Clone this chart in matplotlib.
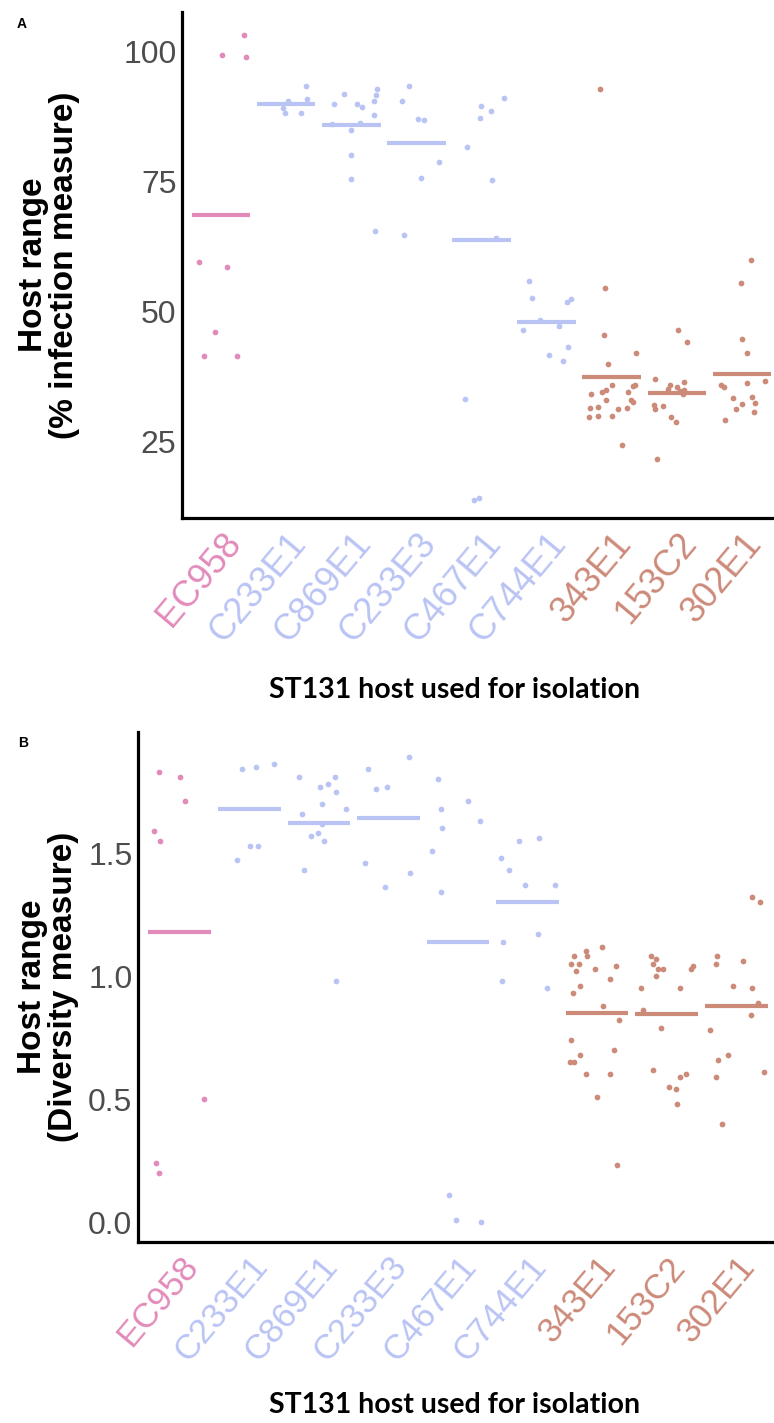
import numpy as np
import matplotlib.pyplot as plt

W, H = 774, 1423

categories = ["EC958", "C233E1", "C869E1", "C233E3", "C467E1", "C744E1", "343E1", "153C2", "302E1"]
groups = ["ref", "blue", "blue", "blue", "blue", "blue", "brown", "brown", "brown"]

# panel A: % infection measure, one list per host
inf_EC958 = [103.1, 99.2, 98.9, 59.5, 58.5, 45.9, 41.3, 41.3]
inf_C233E1 = [93.3, 90.3, 90.8, 88.0, 89.0, 88.0]
inf_C869E1 = [92.7, 91.7, 91.5, 90.3, 89.9, 89.9, 89.2, 87.7, 86.1, 86.0, 84.9, 80.0, 75.4, 65.3]
inf_C233E3 = [93.3, 90.4, 86.9, 86.8, 78.7, 75.6, 64.7]
inf_C467E1 = [90.9, 89.4, 88.5, 87.2, 81.5, 75.1, 64.0, 33.0, 14.0, 13.7]
inf_C744E1 = [55.8, 52.6, 52.4, 51.7, 48.3, 47.1, 46.3, 43.1, 41.6, 40.4]
inf_343E1 = [92.7, 54.4, 45.4, 41.9, 39.9, 35.8, 35.8, 35.6, 34.8, 34.5, 34.4, 34.0,
             32.9, 32.8, 32.6, 31.6, 31.3, 31.3, 31.2, 29.9, 29.9, 29.7, 24.3]
inf_153C2 = [46.3, 44.1, 37.0, 36.3, 35.8, 35.3, 35.0, 34.8, 34.7, 34.0, 31.9, 31.8, 31.1, 29.6, 28.7, 21.5]
inf_302E1 = [59.8, 55.3, 44.6, 42.0, 36.5, 36.2, 35.8, 35.4, 33.5, 33.3, 32.4, 32.1, 31.1, 30.6, 29.1]

# panel B: diversity measure
div_EC958 = [1.83, 1.81, 1.71, 1.59, 1.55, 0.50, 0.24, 0.20]
div_C233E1 = [1.86, 1.85, 1.84, 1.53, 1.53, 1.47]
div_C869E1 = [1.81, 1.81, 1.78, 1.77, 1.75, 1.70, 1.68, 1.66, 1.62, 1.58, 1.57, 1.55, 1.43, 0.98]
div_C233E3 = [1.89, 1.84, 1.77, 1.76, 1.46, 1.42, 1.36]
div_C467E1 = [1.80, 1.71, 1.68, 1.63, 1.60, 1.51, 1.34, 0.11, 0.01, 0.00]
div_C744E1 = [1.56, 1.55, 1.48, 1.43, 1.37, 1.37, 1.17, 1.14, 0.98, 0.95]
div_343E1 = [1.12, 1.10, 1.08, 1.08, 1.05, 1.05, 1.04, 1.03, 1.02, 0.99, 0.96, 0.93,
             0.88, 0.82, 0.74, 0.70, 0.68, 0.65, 0.65, 0.60, 0.60, 0.51, 0.23]
div_153C2 = [1.08, 1.07, 1.05, 1.04, 1.03, 1.03, 1.03, 1.00, 0.95, 0.95, 0.86, 0.79,
             0.62, 0.60, 0.59, 0.55, 0.54, 0.48]
div_302E1 = [1.32, 1.30, 1.08, 1.06, 1.05, 0.96, 0.95, 0.89, 0.84, 0.78, 0.68, 0.66, 0.61, 0.59, 0.40]

infection = [inf_EC958, inf_C233E1, inf_C869E1, inf_C233E3, inf_C467E1,
             inf_C744E1, inf_343E1, inf_153C2, inf_302E1]
diversity = [div_EC958, div_C233E1, div_C869E1, div_C233E3, div_C467E1,
             div_C744E1, div_343E1, div_153C2, div_302E1]

COLORS = {"ref": "#E28BBA", "blue": "#BAC4F4", "brown": "#CC8A79"}
TICK_GREY = "#4D4D4D"
FONT = "Liberation Sans"

fig = plt.figure(figsize=(W / 100, H / 100), dpi=100)


def px_axes(left, top, right, bottom):
    return fig.add_axes([left / W, 1 - bottom / H, (right - left) / W, (bottom - top) / H])


def strip_panel(ax, values, ylim, yticks, yticklabels, seed, xfont):
    rng = np.random.default_rng(seed)
    for i, (vals, grp) in enumerate(zip(values, groups), start=1):
        col = COLORS[grp]
        xs = i + rng.uniform(-0.4, 0.4, len(vals))
        ax.scatter(xs, vals, s=17, color=col, linewidths=0, zorder=3)
        ax.hlines(np.mean(vals), i - 0.45, i + 0.45, color=col, lw=3, zorder=2)
    ax.set_xlim(0.4, 9.6)
    ax.set_ylim(*ylim)
    ax.set_yticks(yticks)
    ax.set_yticklabels(yticklabels, fontsize=23, color=TICK_GREY, family=FONT)
    ax.set_xticks(range(1, 10))
    ax.set_xticklabels(categories, fontsize=xfont, family=FONT, rotation=50,
                       ha="right", va="top", rotation_mode="anchor")
    for lab, grp in zip(ax.get_xticklabels(), groups):
        lab.set_color(COLORS[grp])
    ax.tick_params(axis="y", length=0, pad=4)
    ax.tick_params(axis="x", length=0, pad=6)
    for side in ("top", "right"):
        ax.spines[side].set_visible(False)
    for side in ("left", "bottom"):
        ax.spines[side].set_linewidth(2.3)
        ax.spines[side].set_color("black")
    ax.set_facecolor("white")


# panel A
ax = px_axes(182, 12, 781, 518)
strip_panel(ax, infection, (10.2, 107.5), [25, 50, 75, 100], ["25", "50", "75", "100"], seed=4, xfont=26)
fig.text(49 / W, 1 - 265 / H, "Host range\n(% infection measure)", rotation=90,
         ha="center", va="center", ma="center", fontsize=24, fontweight="bold",
         family=FONT, linespacing=1.0)
fig.text(455 / W, 1 - 690 / H, "ST131 host used for isolation", ha="center", va="center",
         fontsize=20.5, fontweight="bold", family="Lato")
fig.text(22 / W, 1 - 24 / H, "A", ha="center", va="center", fontsize=10,
         fontweight="bold", family=FONT)

# panel B
ax = px_axes(138, 732, 778, 1242)
strip_panel(ax, diversity, (-0.081, 1.992), [0.0, 0.5, 1.0, 1.5], ["0.0", "0.5", "1.0", "1.5"], seed=11, xfont=25)
fig.text(48 / W, 1 - 987 / H, "Host range\n(Diversity measure)", rotation=90,
         ha="center", va="center", ma="center", fontsize=24, fontweight="bold",
         family=FONT, linespacing=1.0)
fig.text(455 / W, 1 - 1405 / H, "ST131 host used for isolation", ha="center", va="center",
         fontsize=20.5, fontweight="bold", family="Lato")
fig.text(23 / W, 1 - 743 / H, "B", ha="center", va="center", fontsize=10,
         fontweight="bold", family=FONT)

fig.savefig("out.png", dpi=100, facecolor="white")
